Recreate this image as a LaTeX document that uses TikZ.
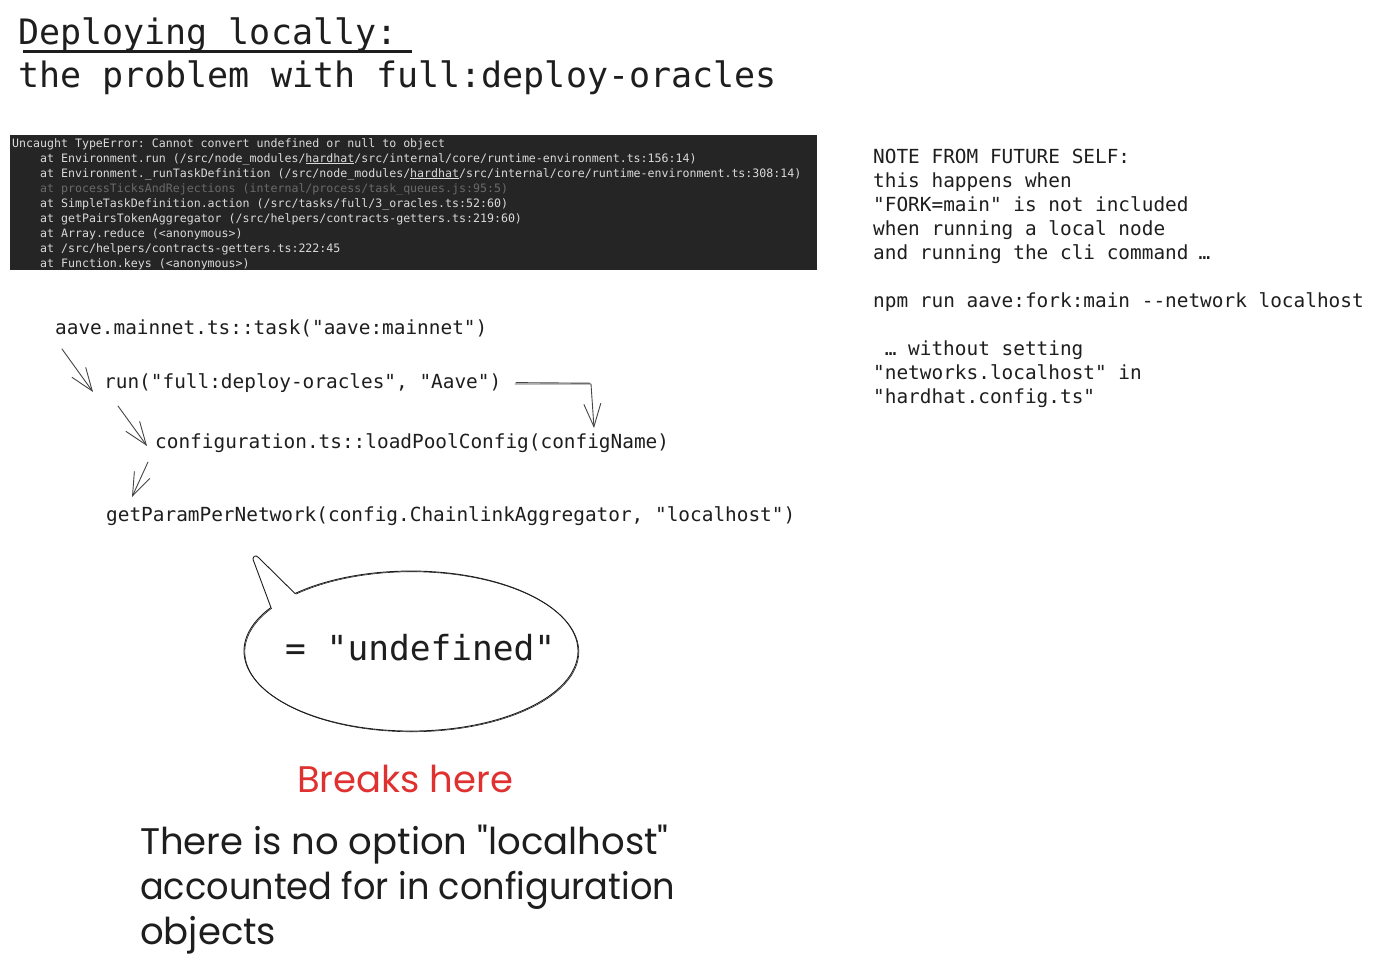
\documentclass[tikz,border=0pt]{standalone}
\usepackage{fontspec}
\usepackage{graphicx}
\setmonofont{DejaVu Sans Mono}
\newfontfamily\handfont{Poppins}
\usetikzlibrary{arrows.meta}
\definecolor{ink}{HTML}{1E1E1E}
\definecolor{termbg}{HTML}{252526}
\definecolor{termfg}{HTML}{DADADA}
\definecolor{termdim}{HTML}{6A6A6A}
\definecolor{redink}{HTML}{E03131}
\definecolor{arrink}{HTML}{454545}
\newcommand\mycodefont{\ttfamily\fontsize{19.4}{24}\selectfont}
\newcommand\mytermfont{\ttfamily\fontsize{11.6}{15}\selectfont}
\newcommand\mytitlefont{\ttfamily\fontsize{35}{43}\selectfont}
\newcommand\mybubblefont{\ttfamily\fontsize{34.5}{40}\selectfont}
\newcommand\myhandfont{\handfont\fontsize{37}{45}\selectfont}
\tikzset{
  code/.style={anchor=base west, inner sep=0pt, font=\mycodefont, text=ink},
  termline/.style={anchor=base west, inner sep=0pt, font=\mytermfont, text=termfg},
  titleline/.style={anchor=base west, inner sep=0pt, font=\mytitlefont, text=ink},
  handline/.style={anchor=base west, inner sep=0pt, font=\myhandfont, text=ink},
  sk/.style={draw=arrink, line width=0.9pt, line cap=round, line join=round},
  arr/.style={sk, -{Straight Barb[length=23pt,width=17pt]}},
  bubble/.style={draw=ink, line width=0.9pt, line join=round}
}
\begin{document}
\begin{tikzpicture}[x=1pt,y=-1pt]
\useasboundingbox (0,0) rectangle (1375,966);
\fill[white] (0,0) rectangle (1375,966);

% title
\node[titleline] (t1) at (18,45) {Deploying locally:};
\node[titleline] (t2) at (18,88) {the problem with full:deploy-oracles};
\draw[ink, line width=3pt] (23,52) -- (412,52);

% terminal screenshot
\node[fill=termbg, draw=none, anchor=north west, inner sep=0pt, minimum width=807pt, minimum height=135pt] (term) at (10,135) {};
\node[termline] (e1) at (12,147) {Uncaught TypeError: Cannot convert undefined or null to object};
\node[termline] (e2) at (12,162) {\phantom{xxxx}at Environment.run (/src/node\_modules/\underline{hardhat}/src/internal/core/runtime-environment.ts:156:14)};
\node[termline] (e3) at (12,177) {\phantom{xxxx}at Environment.\_runTaskDefinition (/src/node\_modules/\underline{hardhat}/src/internal/core/runtime-environment.ts:308:14)};
\node[termline, text=termdim] (e4) at (12,192) {\phantom{xxxx}at processTicksAndRejections (internal/process/task\_queues.js:95:5)};
\node[termline] (e5) at (12,207) {\phantom{xxxx}at SimpleTaskDefinition.action (/src/tasks/full/3\_oracles.ts:52:60)};
\node[termline] (e6) at (12,222) {\phantom{xxxx}at getPairsTokenAggregator (/src/helpers/contracts-getters.ts:219:60)};
\node[termline] (e7) at (12,237) {\phantom{xxxx}at Array.reduce (<anonymous>)};
\node[termline] (e8) at (12,252) {\phantom{xxxx}at /src/helpers/contracts-getters.ts:222:45};
\node[termline] (e9) at (12,267) {\phantom{xxxx}at Function.keys (<anonymous>)};

% call chain
\node[code] (aave) at (55,334) {aave.mainnet.ts::task("aave:mainnet")};
\node[code] (run) at (104,388) {run("full:deploy-oracles", "Aave")};
\node[code] (conf) at (155,448) {configuration.ts::loadPoolConfig(configName)};
\node[code] (param) at (106,521) {getParamPerNetwork(config.ChainlinkAggregator, "localhost")};

\coordinate (a1s) at (62,349);  \coordinate (a1e) at (93,392);
\coordinate (a2s) at (118,406); \coordinate (a2e) at (147,446);
\coordinate (a3s) at (148,462); \coordinate (a3e) at (132,497);
\coordinate (a4s) at (515,384); \coordinate (a4c) at (591,384); \coordinate (a4e) at (594,428);
\draw[arr] (a1s) -- (a1e);
\draw[arr] (a2s) -- (a2e);
\draw[arr] (a3s) -- (a3e);
\draw[arr] (a4s) -- (a4c) -- (a4e);
\draw[sk] (516,382.6) -- (590,383.2);

% note
\node[code] (n1) at (873,163) {NOTE FROM FUTURE SELF:};
\node[code] (n2) at (873,187) {this happens when};
\node[code] (n3) at (873,211) {"FORK=main" is not included};
\node[code] (n4) at (873,235) {when running a local node};
\node[code] (n5) at (873,259) {and running the cli command\makebox[32pt][c]{…}};
\node[code] (n6) at (873,307) {npm run aave:fork:main --network localhost};
\node[code] (n7) at (873,355) {\makebox[35pt][c]{…}without setting};
\node[code] (n8) at (873,379) {"networks.localhost" in};
\node[code] (n9) at (873,403) {"hardhat.config.ts"};

% speech bubble
\draw[bubble] (295,593.5) arc[start angle=226, end angle=573, x radius=167, y radius=80]
  -- (254,562) .. controls (251,556) and (256,554) .. (259,558) -- cycle;
\draw[bubble, line width=0.6pt, shift={(0.8,0.7)}] (295,593.5) arc[start angle=226, end angle=573, x radius=167, y radius=80];
\node[anchor=base west, inner sep=0pt, font=\mybubblefont, text=ink] (undef) at (285,660) {= "undefined"};

% handwritten notes
\node[handline, text=redink] (brk) at (297,792) {Breaks here};
\node[handline] (h1) at (140,854) {There is no option "localhost"};
\node[handline] (h2) at (140,899) {\scalebox{0.95}[1]{accounted for in configuration}};
\node[handline] (h3) at (140,944) {objects};
\end{tikzpicture}
\end{document}
